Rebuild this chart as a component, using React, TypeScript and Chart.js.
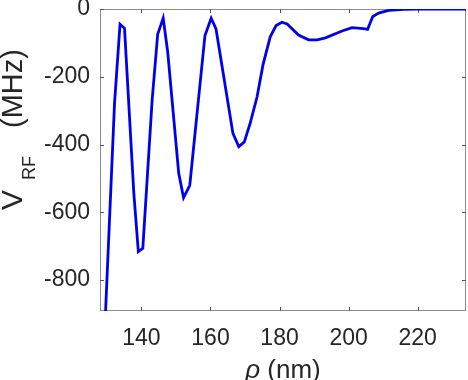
import React, { useEffect, useRef } from 'react';
import { Chart, registerables } from 'chart.js';

Chart.register(...registerables);

// ---- data ----
const rho = [
  129.6, 132.2, 133.8, 135.1, 137.8, 139.1, 140.4, 143.1, 144.7, 146.3,
  147.6, 150.8, 152.2, 154.0, 158.4, 160.2, 161.6, 166.5, 168.2, 169.8,
  171.5, 173.5, 175.2, 177.3, 179.0, 180.7, 182.2, 185.5, 188.4, 190.9,
  193.3, 198.1, 201.0, 204.3, 205.5, 207.0, 208.7, 211.6, 216.0, 220.0, 234.0,
];
const vrf = [
  -895, -280, -45, -57, -544, -716, -706, -269, -75, -27,
  -126, -485, -557, -520, -78, -27, -59, -367, -406, -392,
  -337, -259, -165, -82, -49, -39, -44, -77, -91, -91,
  -85, -65, -55, -58, -60, -22, -12, -4, -1, 0, 0,
];
const xTicks = [140, 160, 180, 200, 220];
const yTicks = [-800, -600, -400, -200, 0];
const xRange = [128, 234];
const yRange = [-891, 0];

const TEXT = '#262626';
const FONT = '"Liberation Sans", Arial, Helvetica, sans-serif';

const framePlugin = {
  id: 'matlabFrame',
  beforeDatasetsDraw(chart: any) {
    const { ctx, chartArea: a, scales } = chart;
    ctx.save();
    ctx.strokeStyle = '#8c8c8c';
    ctx.lineWidth = 1;
    ctx.strokeRect(a.left + 0.5, a.top + 0.5, a.right - a.left - 1, a.bottom - a.top - 1);
    ctx.strokeStyle = '#555555';
    const tl = 4;
    ctx.beginPath();
    for (const v of xTicks) {
      const px = Math.round(scales.x.getPixelForValue(v)) + 0.5;
      ctx.moveTo(px, a.bottom);
      ctx.lineTo(px, a.bottom - tl);
      ctx.moveTo(px, a.top);
      ctx.lineTo(px, a.top + tl);
    }
    for (const v of yTicks) {
      const py = Math.round(scales.y.getPixelForValue(v)) + 0.5;
      ctx.moveTo(a.left, py);
      ctx.lineTo(a.left + tl, py);
      ctx.moveTo(a.right, py);
      ctx.lineTo(a.right - tl, py);
    }
    ctx.stroke();
    ctx.restore();
  },
  afterDraw(chart: any) {
    const { ctx, chartArea: a } = chart;
    ctx.save();
    ctx.fillStyle = TEXT;
    ctx.textBaseline = 'alphabetic';
    ctx.textAlign = 'left';
    // x title: italic rho + " (nm)"
    const cx = (a.left + a.right) / 2;
    ctx.font = `italic 26px ${FONT}`;
    const w1 = ctx.measureText('ρ').width;
    ctx.font = `26px ${FONT}`;
    const w2 = ctx.measureText(' (nm)').width;
    const x0 = cx - (w1 + w2) / 2;
    const by = a.bottom + 67;
    ctx.font = `italic 26px ${FONT}`;
    ctx.fillText('ρ', x0, by);
    ctx.font = `26px ${FONT}`;
    ctx.fillText(' (nm)', x0 + w1, by);

    // y title: V_RF (MHz), rotated
    const cy = (a.top + a.bottom) / 2;
    ctx.translate(22, cy + 50);
    ctx.rotate(-Math.PI / 2);
    ctx.font = `30px ${FONT}`;
    ctx.fillText('V', 0, 0);
    ctx.font = `18px ${FONT}`;
    ctx.fillText('RF', 30, 13);
    ctx.font = `29px ${FONT}`;
    ctx.fillText('(MHz)', 82, 0);
    ctx.restore();
  },
};

export default function App() {
  const ref = useRef<HTMLCanvasElement | null>(null);
  useEffect(() => {
    if (!ref.current) return;
    const points = rho.map((x, i) => ({ x, y: vrf[i] }));
    const chart = new Chart(ref.current, {
      type: 'line',
      data: {
        datasets: [
          {
            data: points,
            borderColor: '#0000f0',
            borderWidth: 2.8,
            pointRadius: 0,
            tension: 0,
            fill: false,
          },
        ],
      },
      options: {
        responsive: false,
        animation: false,
        layout: { padding: { top: 9, right: 2, left: 0, bottom: 0 } },
        plugins: { legend: { display: false }, tooltip: { enabled: false } },
        scales: {
          x: {
            type: 'linear',
            min: xRange[0],
            max: xRange[1],
            grid: { display: false, drawTicks: false },
            border: { display: false },
            afterBuildTicks: (s: any) => {
              s.ticks = xTicks.map((v) => ({ value: v }));
            },
            afterFit: (s: any) => {
              s.height = 69;
              s.paddingLeft = 0;
              s.paddingRight = 0;
            },
            ticks: {
              color: TEXT,
              font: { family: FONT, size: 23 },
              padding: 14,
              maxRotation: 0,
              autoSkip: false,
            },
          },
          y: {
            type: 'linear',
            min: yRange[0],
            max: yRange[1],
            grid: { display: false, drawTicks: false },
            border: { display: false },
            afterBuildTicks: (s: any) => {
              s.ticks = yTicks.map((v) => ({ value: v }));
            },
            afterFit: (s: any) => {
              s.width = 100;
              s.paddingTop = 0;
              s.paddingBottom = 0;
            },
            ticks: {
              color: TEXT,
              font: { family: FONT, size: 23 },
              padding: 10,
              autoSkip: false,
            },
          },
        },
      },
      plugins: [framePlugin],
    });
    return () => chart.destroy();
  }, []);
  return (
    <div style={{ position: 'absolute', left: 0, top: 0, width: 468, height: 380, background: '#fff' }}>
      <canvas ref={ref} width={468} height={380} />
    </div>
  );
}
